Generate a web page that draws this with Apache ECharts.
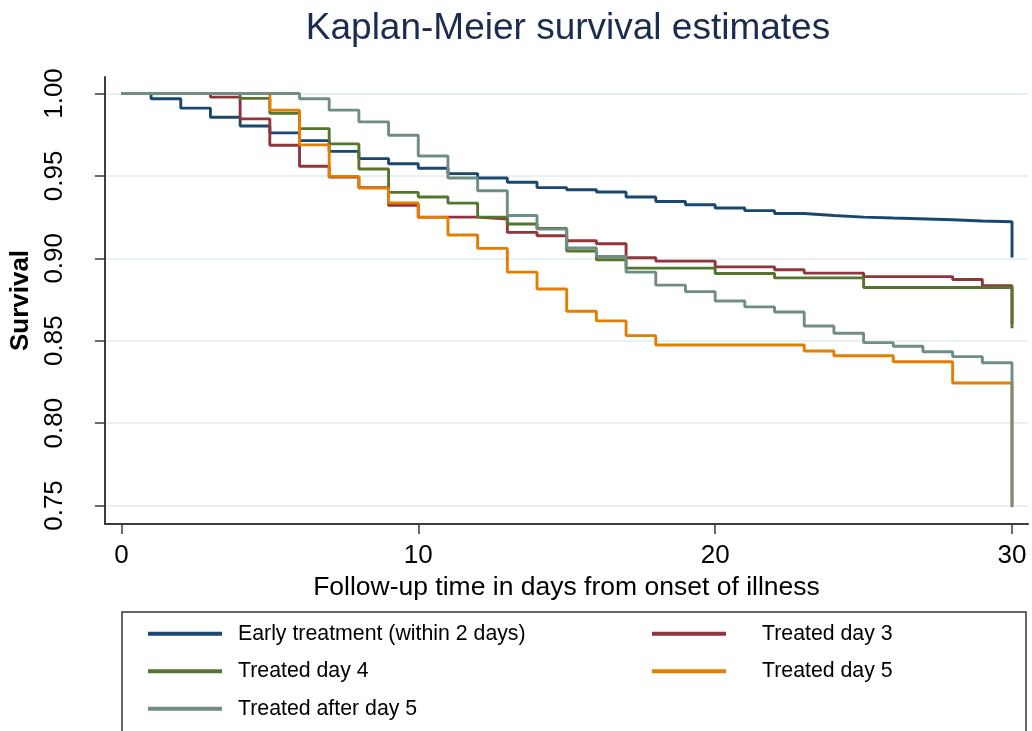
<!DOCTYPE html>
<html>
<head>
<meta charset="utf-8">
<script src="https://cdn.jsdelivr.net/npm/echarts@6/dist/echarts.min.js"></script>
<style>
html,body{margin:0;padding:0;background:#fff;}
#chart{width:1032px;height:731px;}
</style>
</head>
<body>
<div id="chart"></div>
<script>
// ---- Data (KM step points: day, survival) ----
const seriesNames = ['Early treatment (within 2 days)', 'Treated day 3', 'Treated day 4', 'Treated day 5', 'Treated after day 5'];
const seriesColors = ['#1a476f', '#90353b', '#55752f', '#e37e00', '#6e8e84'];

const earlyDays = [0,1,2,3,4,5,6,7,8,9,10,11,12,13,14,15,16,17,18,19,20,21,22,23,24,25,26,28,29,30,30];
const earlySurv = [1.0,0.9968,0.9911,0.9856,0.9803,0.9761,0.9714,0.9649,0.9605,0.9574,0.9546,0.9514,0.9487,0.9461,0.9429,0.9416,0.9402,0.9372,0.9345,0.9325,0.9305,0.9289,0.9272,0.9260,0.9250,0.9244,0.9234,0.9226,0.9222,0.9222,0.9005];

const day3Days = [0,3,4,5,6,7,8,9,10,12,13,14,15,16,17,18,20,22,23,25,28,29,30,30];
const day3Surv = [1.0,0.9978,0.9846,0.9686,0.9558,0.9493,0.9429,0.9321,0.9250,0.9238,0.9157,0.9137,0.9106,0.9088,0.9003,0.8983,0.8948,0.8930,0.8910,0.8889,0.8871,0.8833,0.8833,0.8600];

const day4Days = [0,4,5,6,7,8,9,10,11,12,13,14,15,16,17,20,22,25,30,30];
const day4Surv = [1.0,0.9970,0.9880,0.9787,0.9694,0.9542,0.9400,0.9372,0.9335,0.9250,0.9208,0.9181,0.9044,0.8991,0.8940,0.8908,0.8881,0.8823,0.8823,0.8575];

const day5Days = [0,5,6,7,8,9,10,11,12,13,14,15,16,17,18,23,24,26,28,30,30];
const day5Surv = [1.0,0.9899,0.9688,0.9497,0.9426,0.9336,0.9248,0.9141,0.9060,0.8916,0.8814,0.8679,0.8620,0.8531,0.8474,0.8437,0.8409,0.8372,0.8243,0.8243,0.7500];

const afterDays = [0,6,7,8,9,10,11,12,13,14,15,16,17,18,19,20,21,22,23,24,25,26,27,28,29,30,30];
const afterSurv = [1.0,0.9968,0.9899,0.9828,0.9747,0.9621,0.9487,0.9410,0.9260,0.9177,0.9062,0.9011,0.8916,0.8837,0.8798,0.8741,0.8705,0.8674,0.8589,0.8545,0.8488,0.8466,0.8433,0.8403,0.8366,0.8366,0.7490];

const xTicks = [0, 10, 20, 30];
const yTicks = [0.75, 0.80, 0.85, 0.90, 0.95, 1.00];

const allDays = [earlyDays, day3Days, day4Days, day5Days, afterDays];
const allSurv = [earlySurv, day3Surv, day4Surv, day5Surv, afterSurv];

const FONT = '"Liberation Sans", Arial, Helvetica, sans-serif';

const series = seriesNames.map((name, i) => ({
  name: name,
  type: 'line',
  step: 'end',
  showSymbol: false,
  symbol: 'none',
  z: 3 + i,
  lineStyle: { color: seriesColors[i], width: 2.9 },
  itemStyle: { color: seriesColors[i] },
  data: allDays[i].map((d, k) => [d, allSurv[i][k]])
}));

const chart = echarts.init(document.getElementById('chart'), null, { renderer: 'canvas' });
chart.setOption({
  backgroundColor: '#ffffff',
  animation: false,
  textStyle: { fontFamily: FONT },
  title: {
    text: 'Kaplan-Meier survival estimates',
    left: 568,
    textAlign: 'center',
    top: 10,
    padding: 0,
    textStyle: { fontFamily: FONT, fontSize: 37, fontWeight: 'normal', color: '#1c2b50' }
  },
  grid: { left: 104, right: 4, top: 77, bottom: 207, containLabel: false },
  xAxis: {
    type: 'value',
    min: -0.555,
    max: 30.538,
    name: 'Follow-up time in days from onset of illness',
    nameLocation: 'middle',
    nameGap: 41,
    nameTextStyle: { fontFamily: FONT, fontSize: 26.5, color: '#000' },
    axisLine: { show: true, onZero: false, lineStyle: { color: '#3c3c3c', width: 2 } },
    axisTick: { show: true, customValues: xTicks, length: 10, lineStyle: { color: '#3c3c3c', width: 1.5 } },
    axisLabel: { customValues: xTicks, fontSize: 26, color: '#000', margin: 19, fontFamily: FONT },
    splitLine: { show: false }
  },
  yAxis: {
    type: 'value',
    min: 0.73877,
    max: 1.0100,
    name: 'Survival',
    nameLocation: 'middle',
    nameGap: 64,
    nameTextStyle: { fontFamily: FONT, fontSize: 26, fontWeight: 'bold', color: '#000' },
    axisLine: { show: true, onZero: false, lineStyle: { color: '#3c3c3c', width: 2 } },
    axisTick: { show: true, customValues: yTicks, length: 10, lineStyle: { color: '#3c3c3c', width: 1.5 } },
    axisLabel: { customValues: yTicks, rotate: 90, fontSize: 26, color: '#000', margin: 37, fontFamily: FONT,
                 formatter: v => v.toFixed(2) },
    splitLine: { show: true, lineStyle: { color: '#e9f0f2', width: 2 } }
  },
  legend: {
    left: 122,
    top: 612,
    width: 860,
    orient: 'horizontal',
    padding: [3, 26, 40, 26],
    itemGap: 0,
    itemWidth: 74,
    itemHeight: 4,
    icon: 'rect',
    borderColor: '#333',
    borderWidth: 1.5,
    borderRadius: 0,
    backgroundColor: '#fff',
    textStyle: { fontFamily: FONT, fontSize: 21.3, color: '#000', lineHeight: 37.5 },
    data: seriesNames.map((n, i) => ({
      name: n,
      textStyle: (i % 2 === 0)
        ? { width: 414, padding: [0, 0, 0, 11], lineHeight: 37.5, fontSize: 21.3 }
        : { width: 238, padding: [0, 0, 0, 31], lineHeight: 37.5, fontSize: 21.3 }
    }))
  },
  series: series
});
</script>
</body>
</html>
